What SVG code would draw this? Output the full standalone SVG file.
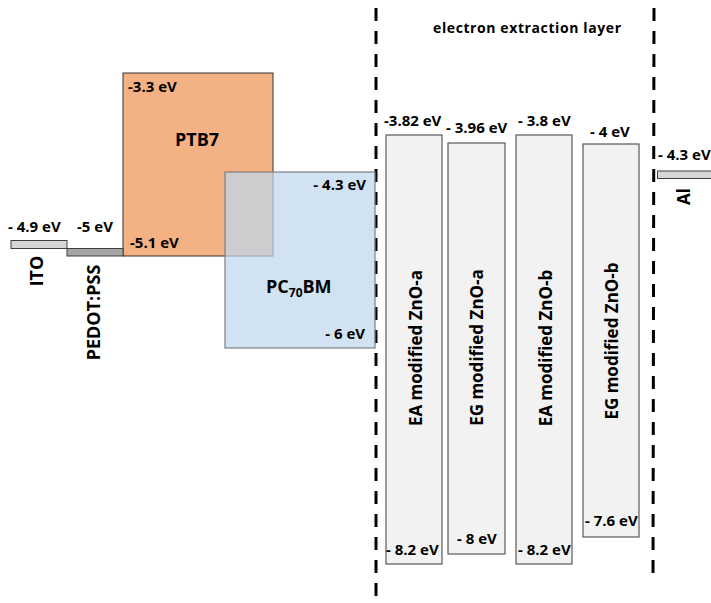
<svg xmlns="http://www.w3.org/2000/svg" width="711" height="603" viewBox="0 0 711 603">
<style>
text{font-family:"Open Sans","Liberation Sans",sans-serif;fill:#000}
.ev{font-size:15px;font-weight:700}
.big{font-size:18px;font-weight:700}
.vert{font-size:18px;font-weight:700;text-anchor:middle}
.zno{font-size:17px;font-weight:700;text-anchor:middle}
.elec{fill:#d6d6d6;stroke:#404040;stroke-width:1}
.zbox{fill:#f2f2f2;stroke:#595959;stroke-width:1.2}
.div{stroke:#000;stroke-width:3;stroke-dasharray:13 10;fill:none}
</style>
<rect width="711" height="603" fill="#fff"/>
<g id="dividers">
<line class="div" x1="376" y1="8" x2="376" y2="603"/>
<line class="div" x1="654" y1="8" x2="653" y2="582"/>
</g>
<text x="433" y="33" textLength="188" lengthAdjust="spacing" style="font-size:14px;font-weight:700">electron extraction layer</text>
<g id="ITO">
<rect class="elec" x="11" y="240.5" width="56" height="8"/>
<text class="ev" x="8" y="232">- 4.9 eV</text>
<text class="vert" transform="translate(43,271) rotate(-90)">ITO</text>
</g>
<g id="PTB7">
<rect x="123" y="73" width="150" height="183" fill="#f4b183" stroke="#333" stroke-width="1"/>
<text class="ev" x="128" y="92">-3.3 eV</text>
<text class="big" x="197" y="146" text-anchor="middle">PTB7</text>
<text class="ev" x="130" y="248">-5.1 eV</text>
</g>
<g id="PEDOT">
<rect x="67" y="248.5" width="56" height="7.5" fill="#a6a6a6" stroke="#404040" stroke-width="1"/>
<text class="ev" x="77" y="232">-5 eV</text>
<text class="vert" transform="translate(100,312.5) rotate(-90)">PEDOT:PSS</text>
</g>
<g id="PC70BM">
<rect x="225" y="172" width="150" height="176" fill="#bdd7ee" fill-opacity="0.7" stroke="#7f7f7f" stroke-width="1.2"/>
<text class="ev" x="366" y="190" text-anchor="end">- 4.3 eV</text>
<text class="big" x="266" y="293">PC<tspan font-size="12" dy="4">70</tspan><tspan dy="-4">BM</tspan></text>
<text class="ev" x="365" y="339" text-anchor="end">- 6 eV</text>
</g>
<g id="ZnO-EA-a">
<rect class="zbox" x="386" y="135" width="56" height="429"/>
<text class="ev" x="384" y="126">-3.82 eV</text>
<text class="zno" transform="translate(421.5,348) rotate(-90)">EA modified ZnO-a</text>
<text class="ev" x="386" y="555">- 8.2 eV</text>
</g>
<g id="ZnO-EG-a">
<rect class="zbox" x="448" y="143" width="57" height="411"/>
<text class="ev" x="446" y="133">- 3.96 eV</text>
<text class="zno" transform="translate(483,347.5) rotate(-90)">EG modified ZnO-a</text>
<text class="ev" x="457" y="544">- 8 eV</text>
</g>
<g id="ZnO-EA-b">
<rect class="zbox" x="516" y="135" width="56" height="429"/>
<text class="ev" x="518" y="126">- 3.8 eV</text>
<text class="zno" transform="translate(551.5,348) rotate(-90)">EA modified ZnO-b</text>
<text class="ev" x="518" y="555">- 8.2 eV</text>
</g>
<g id="ZnO-EG-b">
<rect class="zbox" x="583" y="144" width="56" height="393"/>
<text class="ev" x="590" y="137">- 4 eV</text>
<text class="zno" transform="translate(618,341) rotate(-90)">EG modified ZnO-b</text>
<text class="ev" x="585" y="526">- 7.6 eV</text>
</g>
<g id="Al">
<rect class="elec" x="657.5" y="171" width="60" height="7.5"/>
<text class="ev" x="658" y="160">- 4.3 eV</text>
<text transform="translate(690,196.5) rotate(-90)" text-anchor="middle" style="font-size:17px;font-weight:700">Al</text>
</g>
</svg>
